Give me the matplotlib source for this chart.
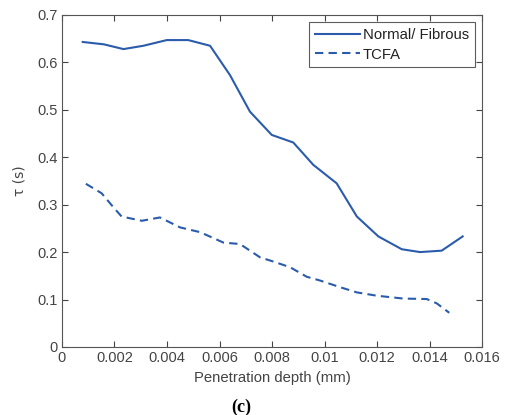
import numpy as np
import matplotlib.pyplot as plt
from matplotlib.ticker import FuncFormatter

# Dados
depth_normal = [0.00079, 0.00160, 0.00234, 0.00310, 0.00399, 0.00481, 0.00564, 0.00640,
                0.00716, 0.00799, 0.00881, 0.00957, 0.01046, 0.01123, 0.01205, 0.01294,
                0.01364, 0.01446, 0.01526]
tau_normal = [0.643, 0.638, 0.628, 0.635, 0.647, 0.647, 0.635, 0.573,
              0.496, 0.447, 0.431, 0.384, 0.345, 0.275, 0.233, 0.206,
              0.200, 0.203, 0.233]

depth_tcfa = [0.00091, 0.00151, 0.00189, 0.00227, 0.00304, 0.00373, 0.00450, 0.00526,
              0.00615, 0.00678, 0.00754, 0.00805, 0.00869, 0.00932, 0.00983, 0.01059,
              0.01123, 0.01199, 0.01300, 0.01389, 0.01427, 0.01475]
tau_tcfa = [0.344, 0.324, 0.299, 0.275, 0.266, 0.273, 0.252, 0.242,
            0.220, 0.217, 0.189, 0.180, 0.168, 0.148, 0.140, 0.126,
            0.115, 0.108, 0.102, 0.101, 0.092, 0.072]

cor = '#2b5cab'
cinza = '#444444'

plt.rcParams['font.family'] = ['Liberation Sans', 'DejaVu Sans']
fig = plt.figure(figsize=(5.08, 4.15), dpi=100)
ax = fig.add_axes([0.122, 0.164, 0.827, 0.800])

ax.plot(depth_normal, tau_normal, '-', color=cor, lw=1.5, label='Normal/ Fibrous')
ax.plot(depth_tcfa, tau_tcfa, '--', color=cor, lw=1.5, dashes=(4, 2.5), label='TCFA')

ax.set_xlim(0, 0.016)
ax.set_ylim(0, 0.7)
ax.set_xticks(np.arange(0, 0.0161, 0.002))
ax.set_yticks(np.arange(0, 0.71, 0.1))
ax.xaxis.set_major_formatter(FuncFormatter(lambda v, p: '%g' % round(v, 4)))
ax.yaxis.set_major_formatter(FuncFormatter(lambda v, p: '%g' % round(v, 2)))
ax.tick_params(direction='in', top=True, right=True, labelsize=10.5, length=4,
               colors=cinza, pad=3)
for s in ax.spines.values():
    s.set_color('#555555')
    s.set_linewidth(0.8)

ax.set_xlabel('Penetration depth (mm)', fontsize=10.7, labelpad=4, color=cinza)
ax.set_ylabel('τ (s)', fontsize=10, labelpad=8, color=cinza, family=['DejaVu Sans'])

leg = ax.legend(loc='upper right', fontsize=10.7, fancybox=False, edgecolor='#333333',
                borderpad=0.4, handlelength=3.0, handletextpad=0.2, labelspacing=0.35,
                borderaxespad=0.5)
leg.get_frame().set_linewidth(0.8)
for t in leg.get_texts():
    t.set_color('#222222')

fig.text(0.475, 0.019, '(c)', ha='center', va='center', fontsize=13, fontweight='bold',
         family=['Liberation Serif'])

fig.savefig('out.png', dpi=100)
